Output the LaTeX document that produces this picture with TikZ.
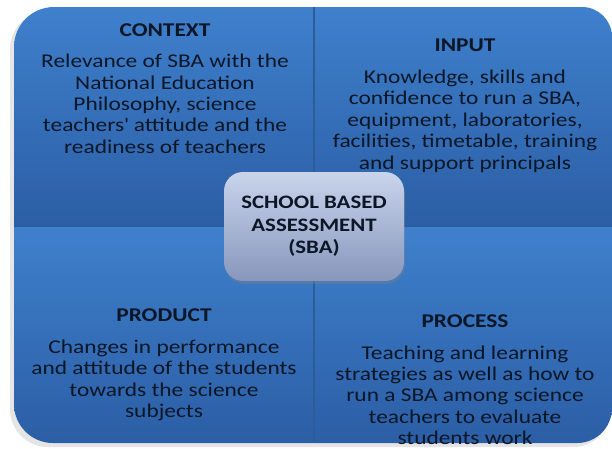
\documentclass[tikz,border=0pt]{standalone}
\usepackage{fontspec}
\setmainfont{Carlito}[FakeStretch=1.2]
\usepackage{tikz}
\usetikzlibrary{positioning, shadows}
\definecolor{QuadTop}{HTML}{3F80CC}
\definecolor{QuadBottom}{HTML}{2B5EA5}
\definecolor{QuadLine}{HTML}{2D5C9B}
\definecolor{HubTop}{HTML}{C9D4EC}
\definecolor{HubBottom}{HTML}{8797BC}
\definecolor{InkDark}{HTML}{0B1626}

\begin{document}
\begin{tikzpicture}[
  x=1pt, y=-1pt,
  quad/.style={top color=QuadTop, bottom color=QuadBottom},
  head/.style={inner sep=0, anchor=base, text=InkDark, font=\fontsize{19.5}{21.5}\selectfont\bfseries},
  body/.style={inner sep=0, align=center, text=InkDark, font=\fontsize{19.5}{21.4}\selectfont},
  hub/.style={rounded corners=19pt, minimum width=180pt, minimum height=109pt, align=center,
    top color=HubTop, bottom color=HubBottom, text=InkDark, font=\fontsize{19}{22.5}\selectfont\bfseries,
    drop shadow={opacity=0.35, shadow xshift=1pt, shadow yshift=-3pt}}
]
\useasboundingbox (0,0) rectangle (612,448);

% soft shadow behind the matrix
\fill[black!10, rounded corners=38pt] (10,11) rectangle (611,447);

% the four quadrants, each with one rounded outer corner
\begin{scope}
  \clip[rounded corners=40pt] (14,7) rectangle (400,300);
  \shade[quad] (14,7) rectangle (313,226);
\end{scope}
\begin{scope}
  \clip[rounded corners=30pt] (230,7) rectangle (612,300);
  \shade[quad] (314,7) rectangle (612,226);
\end{scope}
\begin{scope}
  \clip[rounded corners=39pt] (14,150) rectangle (400,443);
  \shade[quad] (14,227) rectangle (313,443);
\end{scope}
\begin{scope}
  \clip[rounded corners=35pt] (230,150) rectangle (612,443);
  \shade[quad] (314,227) rectangle (612,443);
\end{scope}
\draw[QuadLine, line width=2pt] (313.5,7) -- (313.5,443);
\draw[QuadLine, line width=1pt] (14,226.5) -- (612,226.5);

% headings
\node[head] (context) at (165,36) {CONTEXT};
\node[head] (input) at (465,51.7) {INPUT};
\node[head] (product) at (164,321.7) {PRODUCT};
\node[head] (process) at (465,327.3) {PROCESS};

% texts under the headings
\node[body, below=18pt of context.base] (contextText) {Relevance of SBA with the\\National Education\\Philosophy, science\\teachers\textquotesingle{} attitude and the\\readiness of teachers};
\node[body, below=18pt of input.base] (inputText) {Knowledge, skills and\\confidence to run a SBA,\\equipment, laboratories,\\facilities, timetable, training\\and support principals};
\node[body, below=18pt of product.base] (productText) {Changes in performance\\and attitude of the students\\towards the science\\subjects};
\node[body, below=18pt of process.base] (processText) {Teaching and learning\\strategies as well as how to\\run a SBA among science\\teachers to evaluate\\students work};

% centre box
\node[hub] (sba) at (314,226.5) {SCHOOL BASED\\ASSESSMENT\\(SBA)};
\end{tikzpicture}
\end{document}
